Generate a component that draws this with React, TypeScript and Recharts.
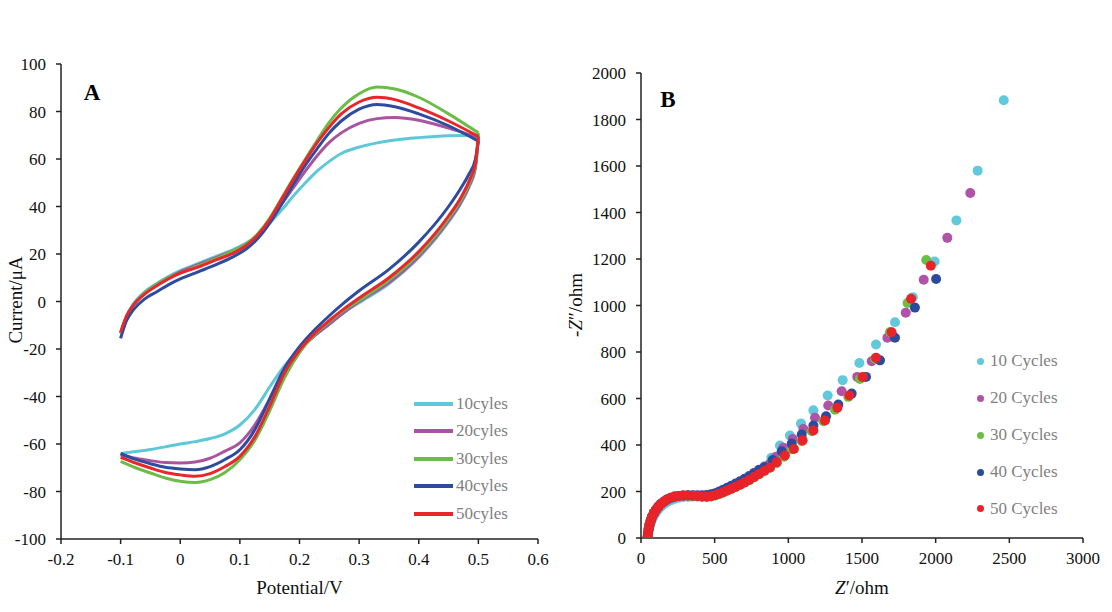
import React from "react";
import {
    LineChart,
    Line,
    ScatterChart,
    Scatter,
    XAxis,
    YAxis,
} from "recharts";

// ---- panel A: cyclic voltammograms ----
const upPotential = [-0.1, -0.09, -0.08, -0.06, -0.04, -0.02, 0, 0.03, 0.06, 0.09, 0.11, 0.13, 0.15, 0.17, 0.19, 0.21, 0.23, 0.25, 0.27, 0.3, 0.33, 0.36, 0.4, 0.45, 0.5];
const up10 = [-13, -6, -1.5, 4, 7.5, 10.5, 13, 16, 19, 22, 24.5, 28, 33, 38.5, 44.5, 50, 55, 59, 62.3, 65, 66.8, 68, 69, 69.8, 70];
const up20 = [-13.5, -6.5, -2, 3.5, 7, 10, 12.5, 15.5, 18.5, 21.5, 24, 28, 34, 41, 48, 55, 61.5, 67, 71, 75, 77, 77.5, 76.3, 73, 69];
const up30 = [-13.5, -6.5, -2, 3.5, 7, 10, 12, 15, 18, 21.5, 24, 28.5, 35, 43.5, 52, 60, 68, 75.5, 81.5, 87.5, 90.3, 89.5, 86, 79, 71];
const up40 = [-15.5, -8, -4, 1, 4, 7, 9.5, 12.5, 15.5, 19, 22, 26.5, 33, 41, 49.5, 57.5, 64.5, 71, 76, 81, 83, 82, 79, 74, 67.5];
const up50 = [-13, -6, -2, 3, 6.5, 9.5, 12, 14.5, 17.5, 20.5, 23.5, 28, 34.5, 43, 51.5, 59.5, 67, 73.5, 79, 84, 86, 85, 81.5, 76, 69.5];

const downPotential = [-0.1, -0.075, -0.05, -0.025, 0, 0.025, 0.05, 0.075, 0.1, 0.125, 0.15, 0.175, 0.2, 0.225, 0.25, 0.275, 0.3, 0.35, 0.4, 0.45, 0.47, 0.485, 0.495, 0.5];
const down10 = [-64, -63.2, -62.3, -61.2, -60, -59, -57.7, -55.7, -52, -45.5, -36, -27, -20, -14.5, -9.5, -4.5, -0.5, 7.5, 18.5, 33.5, 41, 48.5, 56, 70];
const down20 = [-64.5, -66, -67, -67.8, -68, -67.6, -66, -63, -59.5, -52, -41, -29, -20.5, -14.5, -9.5, -4.5, 0, 8, 19, 34, 41.5, 49, 56.5, 69];
const down30 = [-67.3, -70, -72.2, -74.3, -75.7, -76.2, -75, -72, -66.6, -58.5, -46, -32, -21.5, -14, -8.5, -3.5, 0.5, 9, 20, 35, 42.5, 50, 57.5, 71];
const down40 = [-64, -66.5, -68.3, -69.8, -70.5, -70.8, -69.5, -66.5, -62.4, -54, -41, -28, -19, -12, -6, -0.5, 4.5, 13.5, 25, 40, 47.5, 54, 60, 67.5];
const down50 = [-65.6, -68, -70.1, -72, -73, -73.6, -72.5, -69.5, -65.2, -57, -44, -30, -20.5, -13.5, -8, -3, 1.5, 10, 21, 36, 43.5, 51, 58, 69.5];

const cvLabels = ["10cyles", "20cyles", "30cyles", "40cyles", "50cyles"];
const cvTicksX = [-0.2, -0.1, 0, 0.1, 0.2, 0.3, 0.4, 0.5, 0.6];
const cvTicksY = [-100, -80, -60, -40, -20, 0, 20, 40, 60, 80, 100];

// ---- panel B: Nyquist plots ----
const zre10 = [47, 50, 55, 61, 69, 79, 91, 105, 121, 139, 159, 181, 205, 231, 259, 289, 320, 352, 384, 416, 448, 478, 506, 533, 560, 587, 615, 644, 674, 705, 737, 770, 804, 840, 885, 943, 1011, 1086, 1170, 1267, 1369, 1482, 1595, 1724, 1845, 1993, 2141, 2285, 2462];
const zim10 = [3, 19, 36, 53, 69, 85, 99, 113, 126, 137, 147, 156, 163, 169, 173, 176, 177, 178, 178, 178, 178, 181, 186, 192, 200, 208, 217, 227, 238, 250, 263, 277, 292, 310, 345, 398, 441, 492, 549, 613, 679, 753, 832, 928, 1036, 1189, 1366, 1580, 1883];
const zre20 = [45, 48, 52, 58, 66, 76, 88, 102, 118, 136, 156, 178, 202, 228, 256, 286, 318, 350, 382, 414, 446, 476, 504, 531, 558, 585, 613, 642, 672, 703, 735, 768, 802, 838, 876, 918, 966, 1030, 1102, 1181, 1271, 1362, 1468, 1566, 1672, 1797, 1919, 2079, 2235];
const zim20 = [4, 21, 39, 57, 74, 91, 106, 120, 133, 145, 155, 164, 171, 176, 180, 182, 182, 181, 180, 179, 179, 181, 185, 191, 198, 206, 214, 223, 233, 244, 256, 269, 283, 298, 320, 350, 388, 426, 469, 517, 570, 631, 693, 760, 861, 969, 1111, 1291, 1484];
const zre30 = [45, 48, 52, 58, 66, 76, 88, 102, 118, 136, 156, 178, 202, 228, 256, 286, 318, 350, 382, 414, 446, 476, 504, 531, 558, 585, 613, 642, 672, 703, 735, 768, 802, 838, 876, 920, 970, 1023, 1091, 1159, 1238, 1317, 1407, 1486, 1590, 1690, 1809, 1936];
const zim30 = [4, 22, 40, 58, 76, 93, 108, 122, 134, 146, 156, 165, 172, 177, 180, 182, 182, 181, 180, 178, 177, 179, 183, 189, 196, 203, 211, 219, 228, 238, 249, 261, 274, 288, 302, 322, 350, 382, 416, 459, 502, 552, 607, 684, 770, 886, 1011, 1196];
const zre40 = [45, 48, 52, 58, 66, 76, 88, 102, 118, 136, 156, 178, 202, 228, 256, 286, 318, 350, 382, 414, 446, 476, 504, 531, 558, 585, 613, 642, 672, 703, 735, 768, 802, 838, 894, 955, 1023, 1091, 1170, 1256, 1339, 1430, 1527, 1622, 1724, 1859, 2003];
const zim40 = [4, 22, 40, 58, 76, 93, 108, 122, 135, 147, 157, 166, 173, 178, 181, 183, 184, 184, 184, 184, 185, 188, 193, 200, 208, 216, 225, 234, 244, 255, 267, 280, 294, 305, 335, 373, 406, 445, 484, 524, 574, 621, 693, 764, 861, 991, 1114];
const zre50 = [45, 48, 52, 58, 66, 76, 88, 102, 118, 136, 156, 178, 202, 228, 256, 286, 318, 350, 382, 414, 446, 476, 504, 531, 558, 585, 613, 642, 672, 703, 735, 768, 802, 838, 876, 921, 977, 1038, 1097, 1170, 1249, 1333, 1414, 1505, 1595, 1701, 1833, 1967];
const zim50 = [4, 22, 40, 58, 76, 93, 108, 122, 135, 147, 157, 166, 173, 178, 181, 183, 183, 182, 181, 179, 178, 180, 184, 190, 197, 204, 212, 220, 229, 239, 250, 262, 275, 289, 303, 326, 355, 383, 420, 462, 505, 560, 613, 693, 775, 885, 1029, 1171];

const eisLabels = ["10 Cycles", "20 Cycles", "30 Cycles", "40 Cycles", "50 Cycles"];
const eisTicksX = [0, 500, 1000, 1500, 2000, 2500, 3000];
const eisTicksY = [0, 200, 400, 600, 800, 1000, 1200, 1400, 1600, 1800, 2000];

const cvColors = ["#5ec8d8", "#a9549f", "#6bbd47", "#2e4c9e", "#e8262b"];
const eisColors = ["#62c8dc", "#b052a8", "#6dbd45", "#2d4b9e", "#e8232a"];

const FONT = "'Liberation Serif', 'Times New Roman', serif";

const cvSeries = [
    { up: up10, down: down10 },
    { up: up20, down: down20 },
    { up: up30, down: down30 },
    { up: up40, down: down40 },
    { up: up50, down: down50 },
].map((s, k) => ({
    name: cvLabels[k],
    color: cvColors[k],
    upData: upPotential.map((v, i) => ({ v, i: s.up[i] })),
    downData: downPotential.map((v, i) => ({ v, i: s.down[i] })),
}));

const eisSeries = [
    [zre10, zim10],
    [zre20, zim20],
    [zre30, zim30],
    [zre40, zim40],
    [zre50, zim50],
].map(([re, im], k) => ({
    name: eisLabels[k],
    color: eisColors[k],
    data: re.map((x, i) => ({ x, y: im[i] })),
}));

const axisLine = { stroke: "#222", strokeWidth: 1.5 };
const tickStyle = { fill: "#111", fontSize: 17, fontFamily: FONT };

const abs = (left: number, top: number): React.CSSProperties => ({
    position: "absolute",
    left,
    top,
    whiteSpace: "nowrap",
});

function Title({ x, y, rotate, size = 19, children }: any) {
    return (
        <div
            style={{
                ...abs(x, y),
                transform: `translate(-50%, -50%)${rotate ? " rotate(-90deg)" : ""}`,
                fontSize: size,
                color: "#111",
                lineHeight: 1,
            }}
        >
            {children}
        </div>
    );
}

export default function App() {
    const cvRows = [404, 431, 458.5, 486, 514];
    const eisRows = [361, 398, 435, 472, 508.5];

    return (
        <div style={{ position: "absolute", left: 0, top: 0, width: 1112, height: 612, background: "#fff", fontFamily: FONT }}>
            {/* panel A */}
            <div style={abs(0, 0)}>
                <LineChart width={560} height={612} margin={{ top: 64, right: 22, bottom: 43, left: 16 }}>
                    <XAxis
                        type="number"
                        dataKey="v"
                        domain={[-0.2, 0.6]}
                        ticks={cvTicksX}
                        allowDataOverflow
                        height={30}
                        axisLine={axisLine}
                        tickLine={axisLine}
                        tickSize={5}
                        tickMargin={9}
                        tick={tickStyle}
                    />
                    <YAxis
                        type="number"
                        domain={[-100, 100]}
                        ticks={cvTicksY}
                        allowDataOverflow
                        width={45}
                        axisLine={axisLine}
                        tickLine={axisLine}
                        tickSize={5}
                        tickMargin={10}
                        tick={tickStyle}
                    />
                    {cvSeries.map((s) => [
                        <Line
                            key={s.name + "-up"}
                            data={s.upData}
                            dataKey="i"
                            type="monotone"
                            stroke={s.color}
                            strokeWidth={3}
                            dot={false}
                            isAnimationActive={false}
                        />,
                        <Line
                            key={s.name + "-down"}
                            data={s.downData}
                            dataKey="i"
                            type="monotone"
                            stroke={s.color}
                            strokeWidth={3}
                            dot={false}
                            isAnimationActive={false}
                        />,
                    ])}
                </LineChart>
            </div>
            <div style={{ ...abs(92, 92), transform: "translate(-50%, -50%)", fontSize: 23, fontWeight: "bold", lineHeight: 1 }}>A</div>
            <Title x={299.5} y={587}>Potential/V</Title>
            <Title x={15} y={300} rotate>Current/μA</Title>
            {cvSeries.map((s, k) => (
                <div key={s.name} style={{ ...abs(414, cvRows[k] - 10), height: 20, display: "flex", alignItems: "center" }}>
                    <span style={{ display: "inline-block", width: 39, height: 4, background: s.color, marginRight: 3 }} />
                    <span style={{ fontSize: 17, color: "#7f7f7f" }}>{s.name}</span>
                </div>
            ))}

            {/* panel B */}
            <div style={abs(560, 0)}>
                <ScatterChart width={552} height={612} margin={{ top: 73, right: 29, bottom: 44, left: 36 }}>
                    <XAxis
                        type="number"
                        dataKey="x"
                        domain={[0, 3000]}
                        ticks={eisTicksX}
                        allowDataOverflow
                        height={30}
                        axisLine={axisLine}
                        tickLine={axisLine}
                        tickSize={5}
                        tickMargin={9}
                        tick={tickStyle}
                    />
                    <YAxis
                        type="number"
                        dataKey="y"
                        domain={[0, 2000]}
                        ticks={eisTicksY}
                        allowDataOverflow
                        width={45}
                        axisLine={axisLine}
                        tickLine={axisLine}
                        tickSize={5}
                        tickMargin={10}
                        tick={tickStyle}
                    />
                    {eisSeries.map((s) => (
                        <Scatter
                            key={s.name}
                            data={s.data}
                            fill={s.color}
                            isAnimationActive={false}
                            shape={(p: any) => <circle cx={p.cx} cy={p.cy} r={5} fill={s.color} />}
                        />
                    ))}
                </ScatterChart>
            </div>
            <div style={{ ...abs(668, 99), transform: "translate(-50%, -50%)", fontSize: 23, fontWeight: "bold", lineHeight: 1 }}>B</div>
            <Title x={862} y={587}>
                <i>Z</i>′/ohm
            </Title>
            <Title x={575} y={305} rotate>
                -<i>Z</i>″/ohm
            </Title>
            {eisSeries.map((s, k) => (
                <div key={s.name} style={{ ...abs(976.5, eisRows[k] - 10), height: 20, display: "flex", alignItems: "center" }}>
                    <span style={{ display: "inline-block", width: 7, height: 7, borderRadius: "50%", background: s.color, marginRight: 6.5 }} />
                    <span style={{ fontSize: 17, color: "#7f7f7f" }}>{s.name}</span>
                </div>
            ))}
        </div>
    );
}
